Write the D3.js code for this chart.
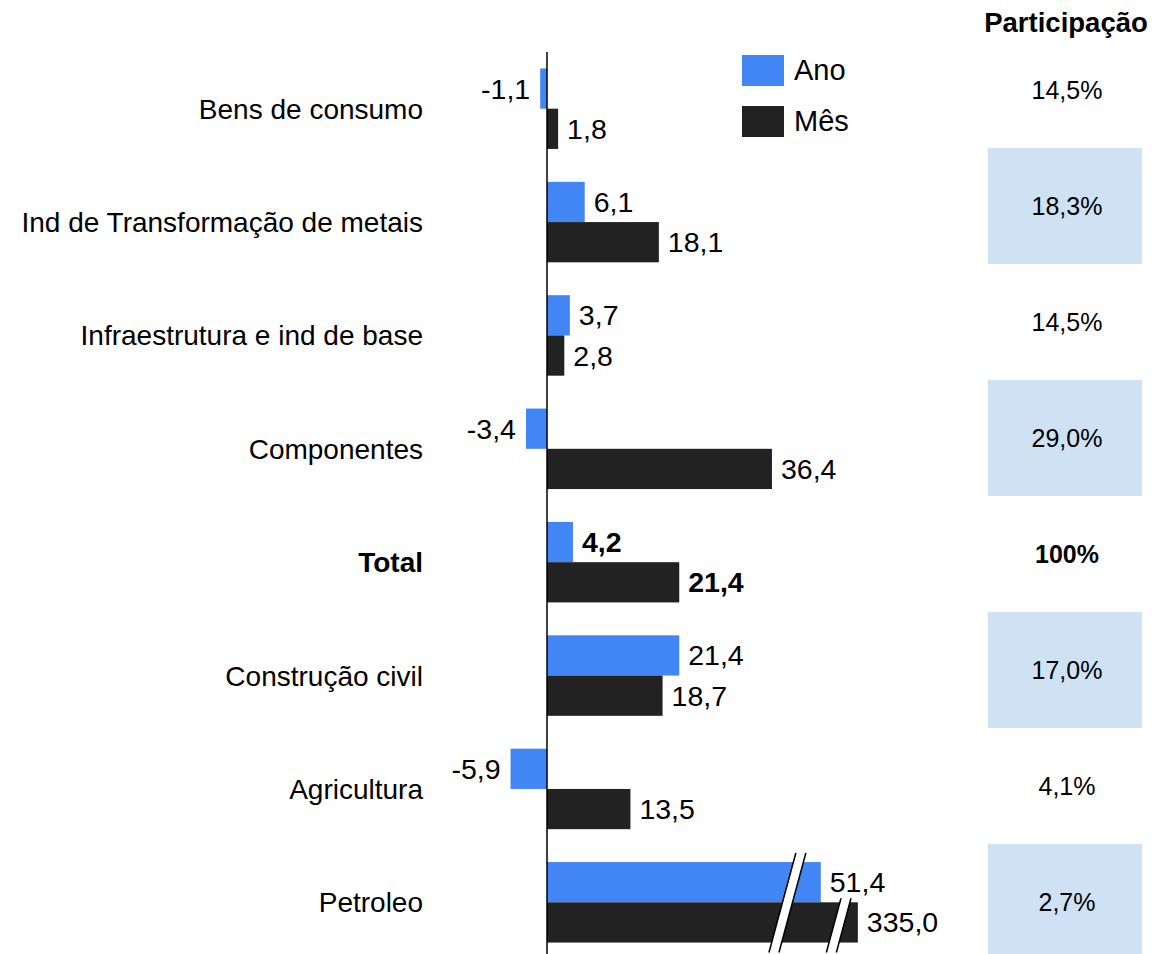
<!DOCTYPE html>
<html>
<head>
<meta charset="utf-8">
<script src="https://cdn.jsdelivr.net/npm/d3@7"></script>
<style>
  body { margin: 0; background: #fff; }
  svg text { font-family: "Liberation Sans", Arial, sans-serif; fill: #000; }
</style>
</head>
<body>
<svg id="chart" width="1154" height="954"></svg>
<script>
// data
var categories = ["Bens de consumo", "Ind de Transformação de metais", "Infraestrutura e ind de base",
                  "Componentes", "Total", "Construção civil", "Agricultura", "Petroleo"];
var ano = [-1.1, 6.1, 3.7, -3.4, 4.2, 21.4, -5.9, 51.4];
var mes = [1.8, 18.1, 2.8, 36.4, 21.4, 18.7, 13.5, 335.0];
var participacao = ["14,5%", "18,3%", "14,5%", "29,0%", "100%", "17,0%", "4,1%", "2,7%"];
// bars that are cut by a break mark: length actually drawn (in data units)
var anoDrawn = [null, null, null, null, null, null, null, 44.3];
var mesDrawn = [null, null, null, null, null, null, null, 50.3];
var seriesNames = ["Ano", "Mês"];
var seriesColors = ["#4285f4", "#222222"];

var fmt = v => d3.format(".1f")(v).replace(".", ",").replace("\u2212", "-");

var svg = d3.select("#chart");

var x = d3.scaleLinear().domain([0, 50]).range([547, 856]);
var y = d3.scaleBand().domain(categories).range([52, 959]).paddingInner(0.29).paddingOuter(0.145);
var sub = d3.scaleBand().domain(seriesNames).range([0, y.bandwidth()]);
var yPart = d3.scaleBand().domain(categories).range([32, 960]);

var rows = categories.map((c, i) => ({
    cat: c, i: i, bold: c == "Total",
    vals: [
	{ s: "Ano", v: ano[i], d: anoDrawn[i] == null ? ano[i] : anoDrawn[i], color: seriesColors[0] },
	{ s: "Mês", v: mes[i], d: mesDrawn[i] == null ? mes[i] : mesDrawn[i], color: seriesColors[1] }
    ]
}));

// participacao shading
svg.selectAll(".pbox")
    .data(rows.filter(r => r.i % 2 == 1))
    .enter().append("rect")
    .attr("class", "pbox")
    .attr("x", 988).attr("width", 154)
    .attr("y", d => yPart(d.cat))
    .attr("height", yPart.bandwidth())
    .attr("fill", "#cfe2f3");

svg.append("text")
    .attr("x", 1066).attr("y", 32)
    .attr("text-anchor", "middle")
    .style("font-size", "27.5px").style("font-weight", "bold")
    .text("Participação");

svg.selectAll(".ptext")
    .data(rows)
    .enter().append("text")
    .attr("class", "ptext")
    .attr("x", 1067)
    .attr("y", d => yPart(d.cat) + yPart.bandwidth() / 2 + 9)
    .attr("text-anchor", "middle")
    .style("font-size", "25px")
    .style("font-weight", d => d.bold ? "bold" : "normal")
    .text(d => participacao[d.i]);

// category labels
svg.selectAll(".cat")
    .data(rows)
    .enter().append("text")
    .attr("class", "cat")
    .attr("x", 423)
    .attr("y", d => y(d.cat) + y.bandwidth() / 2 + 10)
    .attr("text-anchor", "end")
    .style("font-size", "28px")
    .style("font-weight", d => d.bold ? "bold" : "normal")
    .text(d => d.cat);

// bars
var groups = svg.selectAll(".row")
    .data(rows)
    .enter().append("g")
    .attr("class", "row")
    .attr("transform", d => "translate(0," + y(d.cat) + ")");

groups.selectAll(".bar")
    .data(d => d.vals)
    .enter().append("rect")
    .attr("class", "bar")
    .attr("x", d => x(Math.min(0, d.d)))
    .attr("width", d => Math.abs(x(d.d) - x(0)))
    .attr("y", d => sub(d.s))
    .attr("height", sub.bandwidth())
    .attr("fill", d => d.color);

groups.selectAll(".val")
    .data(d => d.vals.map(v => Object.assign({ bold: d.bold }, v)))
    .enter().append("text")
    .attr("class", "val")
    .attr("x", d => d.v < 0 ? x(d.d) - 10 : x(d.d) + 9)
    .attr("y", d => sub(d.s) + sub.bandwidth() / 2 + 10)
    .attr("text-anchor", d => d.v < 0 ? "end" : "start")
    .style("font-size", "28.5px")
    .style("font-weight", d => d.bold ? "bold" : "normal")
    .text(d => fmt(d.v));

// break marks on the Petroleo bars
var pet = "Petroleo";
var breaks = [
    { at: 38.9, y0: y(pet) - 9, y1: y(pet) + y.bandwidth() + 10 },
    { at: 47.2, y0: y(pet) + sub("Mês") - 4, y1: y(pet) + y.bandwidth() + 10 }
];
var slope = 0.27, gap = 10;
breaks.forEach(function(b) {
    var xc = x(b.at), ym = (b.y0 + b.y1) / 2;
    var xt = xc + (ym - b.y0) * slope, xb = xc - (b.y1 - ym) * slope;
    svg.append("path")
	.attr("d", "M" + (xt - gap / 2) + "," + b.y0 + "L" + (xt + gap / 2) + "," + b.y0 +
	      "L" + (xb + gap / 2) + "," + b.y1 + "L" + (xb - gap / 2) + "," + b.y1 + "Z")
	.attr("fill", "#fff");
    [-gap / 2, gap / 2].forEach(function(o) {
	svg.append("line")
	    .attr("x1", xt + o).attr("y1", b.y0)
	    .attr("x2", xb + o).attr("y2", b.y1)
	    .attr("stroke", "#000").attr("stroke-width", 1.5);
    });
});

// zero line
svg.append("line")
    .attr("x1", x(0)).attr("x2", x(0))
    .attr("y1", 52).attr("y2", 954)
    .attr("stroke", "#000").attr("stroke-width", 1.5);

// legend
var legend = svg.selectAll(".legend")
    .data(seriesNames)
    .enter().append("g")
    .attr("class", "legend")
    .attr("transform", (d, i) => "translate(742," + (55 + i * 51) + ")");
legend.append("rect")
    .attr("width", 42).attr("height", 31)
    .attr("fill", (d, i) => seriesColors[i]);
legend.append("text")
    .attr("x", 52).attr("y", 25)
    .style("font-size", "29px")
    .text(d => d);
</script>
</body>
</html>
